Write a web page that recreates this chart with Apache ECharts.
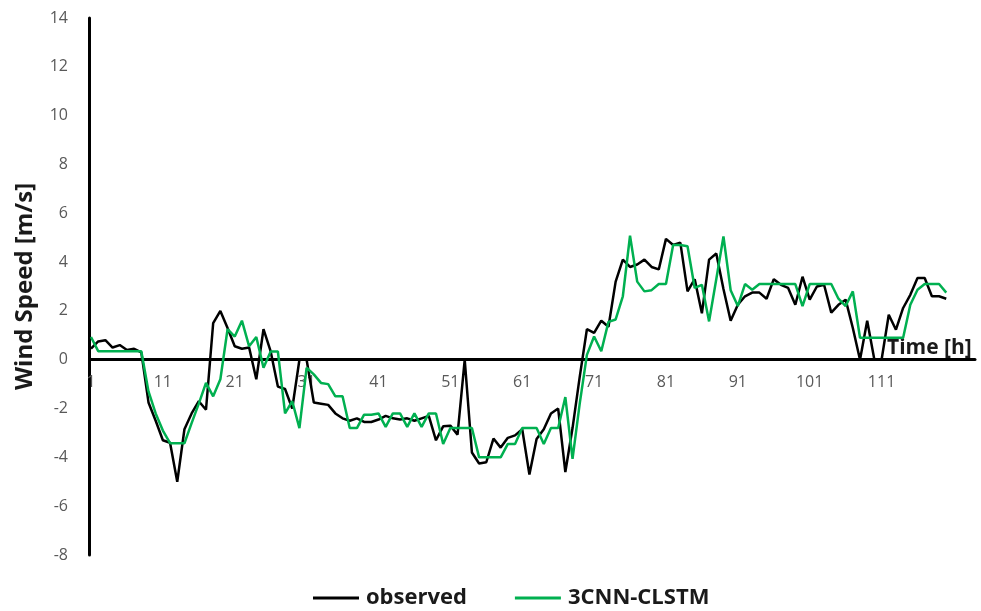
<!DOCTYPE html>
<html>
<head>
<meta charset="utf-8">
<script src="https://cdn.jsdelivr.net/npm/echarts@6/dist/echarts.min.js"></script>
<style>
  html, body { margin: 0; padding: 0; background: #fff; }
  #chart { width: 981px; height: 611px; }
</style>
</head>
<body>
<div id="chart"></div>
<script>
// Hourly wind speed: observed vs. 3CNN-CLSTM prediction (m/s)
const observed = [
  0.45, 0.75, 0.8, 0.5, 0.6, 0.4, 0.45, 0.3, -1.75, -2.5,
  -3.3, -3.4, -5.0, -2.85, -2.2, -1.7, -2.05, 1.5, 2.0, 1.3,
  0.55, 0.45, 0.5, -0.8, 1.25, 0.34, -1.1, -1.2, -2.0, 0.0,
  0.0, -1.75, -1.8, -1.85, -2.2, -2.4, -2.5, -2.4, -2.55, -2.55,
  -2.45, -2.3, -2.4, -2.45, -2.4, -2.5, -2.4, -2.3, -3.3, -2.73,
  -2.7, -3.07, 0.0, -3.8, -4.25, -4.2, -3.23, -3.6, -3.2, -3.1,
  -2.85, -4.7, -3.25, -2.85, -2.2, -2.0, -4.6, -2.8, -0.7, 1.25,
  1.1, 1.6, 1.35, 3.2, 4.1, 3.8, 3.9, 4.1, 3.8, 3.7,
  4.95, 4.7, 4.8, 2.8, 3.3, 1.9, 4.1, 4.35, 2.9, 1.6,
  2.25, 2.6, 2.75, 2.75, 2.5, 3.3, 3.07, 2.94, 2.25, 3.4,
  2.46, 3.0, 3.07, 1.93, 2.25, 2.46, 1.3, 0.0, 1.6, 0.0,
  0.0, 1.84, 1.23, 2.12, 2.66, 3.35, 3.35, 2.6, 2.6, 2.5
];

const predicted = [
  0.93, 0.35, 0.35, 0.35, 0.35, 0.35, 0.35, 0.35, -1.3, -2.2,
  -2.9, -3.42, -3.42, -3.42, -2.6, -1.8, -0.95, -1.5, -0.8, 1.25,
  0.95, 1.6, 0.55, 0.93, -0.33, 0.34, 0.34, -2.2, -1.7, -2.8,
  -0.33, -0.6, -0.95, -1.0, -1.5, -1.5, -2.8, -2.8, -2.25, -2.25,
  -2.2, -2.75, -2.2, -2.2, -2.75, -2.2, -2.75, -2.2, -2.2, -3.45,
  -2.8, -2.8, -2.8, -2.8, -4.0, -4.0, -4.0, -4.0, -3.45, -3.45,
  -2.8, -2.8, -2.8, -3.45, -2.8, -2.8, -1.53, -4.06, -1.8, 0.2,
  0.95, 0.35, 1.55, 1.65, 2.6, 5.08, 3.2, 2.8, 2.85, 3.1,
  3.1, 4.7, 4.7, 4.65, 2.94, 3.07, 1.57, 3.3, 5.05, 2.85,
  2.2, 3.1, 2.87, 3.1, 3.1, 3.1, 3.1, 3.1, 3.1, 2.2,
  3.1, 3.1, 3.1, 3.1, 2.5, 2.2, 2.8, 0.9, 0.9, 0.9,
  0.9, 0.9, 0.9, 0.9, 2.25, 2.87, 3.1, 3.1, 3.1, 2.75
];

// Hour index along the time axis (the axis runs a few hours past the data)
const hours = [];
for (let h = 1; h <= 124; h++) hours.push(String(h));

const seriesNames = ['observed', '3CNN-CLSTM'];
const seriesColors = ['#000000', '#00B050'];

const yMin = -8, yMax = 14, yStep = 2;
const FONT = 'Open Sans';

const W = 981, H = 611;
const gridTop = 18, gridBottom = 56, gridLeft = 91, gridRight = 6;
// The time axis (line, labels and name) sits on the zero line of the value axis
const plotHeight = H - gridTop - gridBottom;
const zeroOffset = -plotHeight * (0 - yMin) / (yMax - yMin);

const chart = echarts.init(document.getElementById('chart'), null, { renderer: 'canvas' });

chart.setOption({
  animation: false,
  backgroundColor: '#ffffff',
  grid: { left: gridLeft, right: gridRight, top: gridTop, bottom: gridBottom, containLabel: false },
  legend: {
    left: 308,
    bottom: -3,
    icon: 'rect',
    itemWidth: 46,
    itemHeight: 3,
    itemGap: 48,
    textStyle: { fontFamily: FONT, fontSize: 22, fontWeight: 'bold', color: '#1a1a1a', padding: [0, 0, 0, 2] },
    data: seriesNames
  },
  xAxis: {
    type: 'category',
    data: hours,
    boundaryGap: false,
    offset: zeroOffset,
    name: 'Time [h]',
    nameLocation: 'end',
    nameGap: -88,
    nameTextStyle: {
      fontFamily: FONT, fontSize: 21, fontWeight: 'bold', color: '#1a1a1a',
      verticalAlign: 'bottom', padding: [0, 0, 1, 0]
    },
    axisLine: { show: true, onZero: false, lineStyle: { color: '#000', width: 3 } },
    axisTick: { show: false },
    axisLabel: {
      fontFamily: FONT, fontSize: 16, color: '#595959', margin: 15,
      interval: function (index) { return index % 10 === 0 && index <= 110; }
    },
    splitLine: { show: false }
  },
  yAxis: {
    type: 'value',
    min: yMin,
    max: yMax,
    interval: yStep,
    offset: 2,
    name: 'Wind Speed [m/s]',
    nameLocation: 'middle',
    nameGap: 52,
    nameTextStyle: { fontFamily: FONT, fontSize: 24, fontWeight: 'bold', color: '#1a1a1a' },
    axisLine: { show: true, lineStyle: { color: '#000', width: 3 } },
    axisTick: { show: false },
    axisLabel: { fontFamily: FONT, fontSize: 16, color: '#595959', margin: 21 },
    splitLine: { show: false }
  },
  series: [
    {
      name: seriesNames[0],
      type: 'line',
      data: observed,
      symbol: 'none',
      color: seriesColors[0],
      lineStyle: { width: 2.5, color: seriesColors[0] },
      z: 2
    },
    {
      name: seriesNames[1],
      type: 'line',
      data: predicted,
      symbol: 'none',
      color: seriesColors[1],
      lineStyle: { width: 2.5, color: seriesColors[1] },
      z: 3
    }
  ]
});
</script>
</body>
</html>
